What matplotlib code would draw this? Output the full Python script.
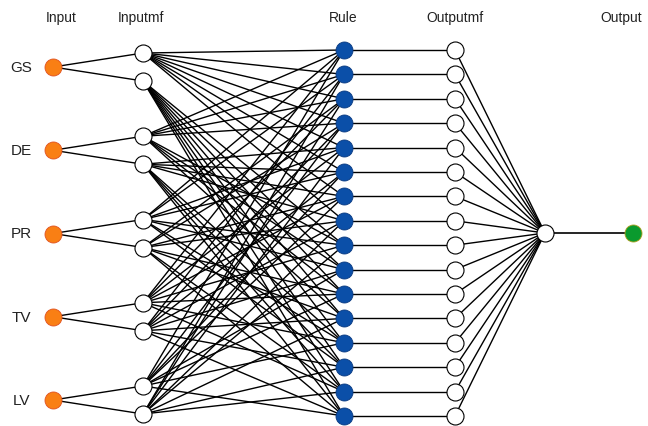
import numpy as np
import matplotlib
matplotlib.use("Agg")
import matplotlib.pyplot as plt

plt.rcParams['font.family'] = ['Liberation Sans', 'DejaVu Sans']

# Network description
inputs = ["GS", "DE", "PR", "TV", "LV"]
n_mf = 2          # membership functions per input
n_rules = 16
layer_titles = ["Input", "Inputmf", "Rule", "Outputmf", "Output"]

# which membership function (0/1) of each input feeds each rule
rule_table = [
    [0, 0, 0, 0, 0],
    [0, 0, 0, 1, 1],
    [0, 0, 1, 0, 1],
    [0, 0, 1, 1, 0],
    [0, 1, 0, 0, 1],
    [0, 1, 0, 1, 0],
    [0, 1, 1, 0, 0],
    [0, 1, 1, 1, 1],
    [1, 0, 0, 0, 1],
    [1, 0, 0, 1, 0],
    [1, 0, 1, 0, 0],
    [1, 0, 1, 1, 1],
    [1, 1, 0, 0, 0],
    [1, 1, 0, 1, 1],
    [1, 1, 1, 0, 1],
    [1, 1, 1, 1, 0],
]

# layout (pixels, y down)
W, H = 648, 427
x_in, x_mf, x_rule, x_omf, x_out, x_fin = 53, 143, 344, 455, 545, 633
y_in = np.linspace(68, 401, len(inputs))
mf_off = 14
y_rule = np.linspace(51, 417, n_rules)
y_out = 234

fig = plt.figure(figsize=(W / 100, H / 100), dpi=100)
ax = fig.add_axes([0, 0, 1, 1])
ax.set_xlim(0, W)
ax.set_ylim(H, 0)
ax.axis('off')

lw = 1.0
mf_y = []
for i, name in enumerate(inputs):
    ys = [y_in[i] - mf_off, y_in[i] + mf_off]
    mf_y.append(ys)
    for y in ys:
        ax.plot([x_in, x_mf], [y_in[i], y], color='black', lw=lw, zorder=1)
    ax.text(21, y_in[i], name, fontsize=11, ha='center', va='center', color='#222222')

# input mf -> rule connections
for r, row in enumerate(rule_table):
    for i, m in enumerate(row):
        ax.plot([x_mf, x_rule], [mf_y[i][m], y_rule[r]], color='black', lw=lw, zorder=1)

# rule -> outputmf -> output
for r in range(n_rules):
    ax.plot([x_rule, x_omf], [y_rule[r], y_rule[r]], color='black', lw=lw, zorder=1)
    ax.plot([x_omf, x_out], [y_rule[r], y_out], color='black', lw=lw, zorder=1)
ax.plot([x_out, x_fin], [y_out, y_out], color='black', lw=1.2, zorder=1)

s = 150
ax.scatter([x_in] * len(inputs), y_in, s=s, color='#F97F14', edgecolors='#E05020', linewidths=0.6, zorder=3)
all_mf = np.array(mf_y).ravel()
ax.scatter([x_mf] * len(all_mf), all_mf, s=s, color='white', edgecolors='black', linewidths=0.8, zorder=3)
ax.scatter([x_rule] * n_rules, y_rule, s=s, color='#0B4FA8', edgecolors='#0A3A80', linewidths=0.6, zorder=3)
ax.scatter([x_omf] * n_rules, y_rule, s=s, color='white', edgecolors='black', linewidths=0.8, zorder=3)
ax.scatter([x_out], [y_out], s=s, color='white', edgecolors='black', linewidths=0.8, zorder=3)
ax.scatter([x_fin], [y_out], s=s, color='#0A9A2E', edgecolors='#B0A020', linewidths=0.6, zorder=3)

for title, x in zip(layer_titles, [61, 141, 343, 455, 621]):
    ax.text(x, 18, title, fontsize=10, ha='center', va='center', color='#222222')

fig.savefig("out.png", dpi=100)
